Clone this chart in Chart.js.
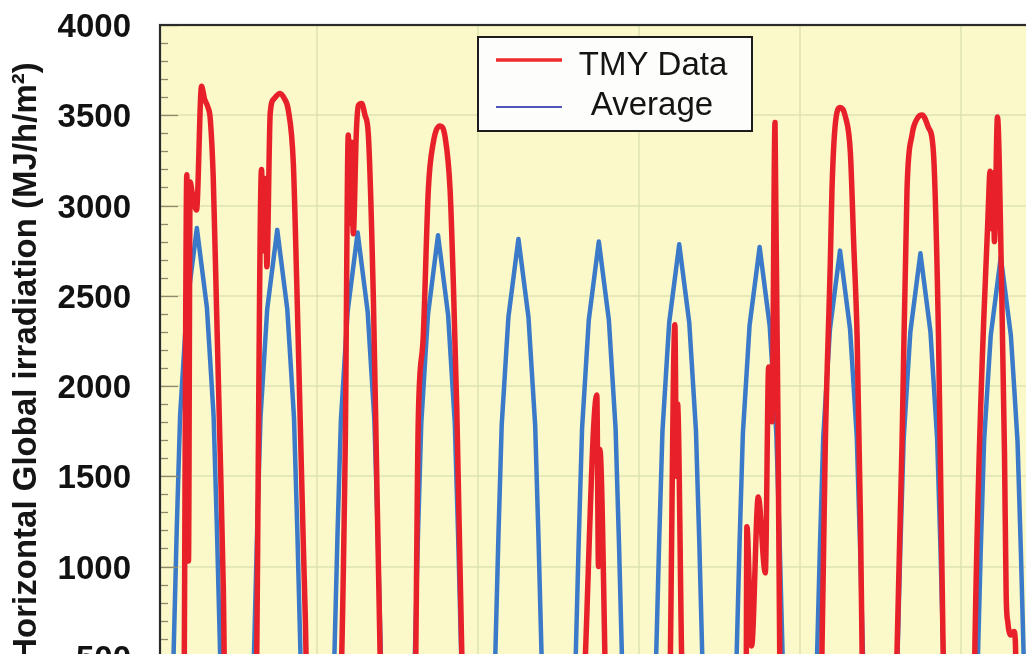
<!DOCTYPE html>
<html>
<head>
<meta charset="utf-8">
<script src="https://cdn.jsdelivr.net/npm/chart.js@4.4.0/dist/chart.umd.min.js"></script>
<style>
  html, body { margin:0; padding:0; background:#ffffff; overflow:hidden; }
  #wrap { width:1026px; height:654px; overflow:hidden; position:relative; background:#fff; }
  canvas { display:block; }
</style>
</head>
<body>
<div id="wrap"><canvas id="c" width="1041" height="771"></canvas></div>
<script>
// ---- Data (hour of record, MJ/h/m²) ----
const seriesLabels = ['TMY Data', 'Average'];
const yAxisTitle = 'Horizontal Global irradiation (MJ/h/m\u00B2)';

// Average: 24 hourly values per day (hours 1..24 of each day)
const avgDay1  = [0,0,0,0,475,1205,1835,2135,2435,2582,2728,2875,2728,2582,2435,2135,1835,1205,475,0,0,0,0,0];
const avgDay2  = [0,0,0,0,470,1195,1825,2125,2425,2572,2718,2865,2718,2572,2425,2125,1825,1195,470,0,0,0,0,0];
const avgDay3  = [0,0,0,0,460,1185,1810,2110,2410,2557,2703,2850,2703,2557,2410,2110,1810,1185,460,0,0,0,0,0];
const avgDay4  = [0,0,0,0,450,1170,1795,2095,2395,2542,2688,2835,2688,2542,2395,2095,1795,1170,450,0,0,0,0,0];
const avgDay5  = [0,0,0,0,440,1150,1780,2080,2380,2525,2670,2815,2670,2525,2380,2080,1780,1150,440,0,0,0,0,0];
const avgDay6  = [0,0,0,0,430,1140,1765,2065,2365,2510,2655,2800,2655,2510,2365,2065,1765,1140,430,0,0,0,0,0];
const avgDay7  = [0,0,0,0,420,1130,1750,2050,2350,2495,2640,2785,2640,2495,2350,2050,1750,1130,420,0,0,0,0,0];
const avgDay8  = [0,0,0,0,410,1120,1735,2035,2335,2480,2625,2770,2625,2480,2335,2035,1735,1120,410,0,0,0,0,0];
const avgDay9  = [0,0,0,0,400,1105,1720,2020,2315,2460,2605,2750,2605,2460,2315,2020,1720,1105,400,0,0,0,0,0];
const avgDay10 = [0,0,0,0,390,1095,1705,2005,2300,2445,2590,2735,2590,2445,2300,2005,1705,1095,390,0,0,0,0,0];
const avgDay11 = [0,0,0,0,380,1080,1690,1990,2280,2425,2570,2715,2570,2425,2280,1990,1690,1080,380,0,0,0,0,0];

// TMY data: [hour, value] pairs
const tmyDay1  = [[1,0],[8.0,0],[9.0,3170],[9.5,1030],[10.0,3130],[10.7,3060],[11.9,2975],[13.4,3660],[14.3,3590],[15.3,3545],[16.0,3480],[16.9,3150],[17.9,2415],[18.9,1680],[19.9,880],[20.6,0]];
const tmyDay2  = [[29.4,0],[31.3,3200],[31.9,2750],[32.4,3150],[32.9,2660],[33.9,3510],[35.0,3590],[36.8,3621],[38.2,3590],[39.3,3529],[40.8,3235],[41.8,2587],[42.8,1850],[43.8,1110],[44.4,700],[45.2,0]];
const tmyDay3  = [[54.1,0],[56.3,1667],[57.2,3390],[57.8,2900],[58.2,3350],[58.7,2844],[59.6,3400],[60.2,3553],[61.2,3565],[62.2,3500],[63.2,3391],[64.7,2479],[65.7,1500],[66.7,515],[67.2,0]];
const tmyDay4  = [[76.9,0],[78.1,1809],[79.6,2277],[81.1,3087],[82.6,3350],[84.6,3441],[86.1,3380],[87.6,3087],[88.6,2550],[89.6,1870],[91.1,515],[91.6,0]];
const tmyDay5  = [[100,0],[103,150],[106,320],[109,380],[112,300],[115,150],[117,0]];
const tmyDay6  = [[126.3,0],[131.4,1950],[131.9,1000],[132.3,1650],[133.8,515],[134.2,0]];
const tmyDay7  = [[152.8,0],[154.7,2340],[155.2,1500],[155.5,1900],[156.7,515],[157.2,0]];
const tmyDay8  = [[175.9,0],[176.2,1220],[177.6,560],[179.6,1385],[181.7,965],[182.7,2105],[183.7,1802],[184.6,3460],[186.0,520],[186.4,0]];
const tmyDay9  = [[197.8,0],[198.6,515],[199.6,1668],[201.1,2681],[201.6,3087],[202.6,3452],[204.1,3543],[205.6,3493],[207.1,3290],[208.1,2783],[209.1,2276],[210.1,1263],[210.6,515],[211.0,0]];
const tmyDay10 = [[220.5,0],[221.0,515],[222.5,1668],[224.0,3087],[225.5,3391],[227.0,3480],[228.5,3502],[230.4,3432],[231.9,3290],[233.4,2276],[233.9,1668],[234.8,515],[235.2,0]];
const tmyDay11 = [[243.9,0],[244.3,600],[248.3,3000],[248.8,3190],[249.3,2870],[249.7,3180],[250.1,2800],[251.0,3490],[252.2,2605],[253.1,1628],[253.6,844],[254.1,690],[255.0,620],[255.9,640],[256.3,600],[257.1,0],[264,0]];

const avgDays = [avgDay1,avgDay2,avgDay3,avgDay4,avgDay5,avgDay6,avgDay7,avgDay8,avgDay9,avgDay10,avgDay11];
const tmyDays = [tmyDay1,tmyDay2,tmyDay3,tmyDay4,tmyDay5,tmyDay6,tmyDay7,tmyDay8,tmyDay9,tmyDay10,tmyDay11];

const yMin = 0, yMax = 4000, yStep = 500, yMinorStep = 100;
const xMin = 1, xMax = 264, xGridStep = 48;

// ---- build points ----
const avgPoints = [];
avgDays.forEach((day, d) => day.forEach((v, i) => avgPoints.push({ x: d * 24 + i + 1, y: v })));
const tmyPoints = [];
tmyDays.forEach(day => day.forEach(p => tmyPoints.push({ x: p[0], y: p[1] })));

const plotBg = 'rgb(251,248,202)';
const gridCol = 'rgba(214,224,170,0.6)';

const decor = {
  id: 'decor',
  beforeDraw(chart) {
    const { ctx, chartArea: a } = chart;
    ctx.save();
    ctx.fillStyle = plotBg;
    ctx.fillRect(a.left, a.top, a.right - a.left, a.bottom - a.top);
    ctx.restore();
  },
  afterDraw(chart) {
    const { ctx, chartArea: a } = chart;
    const ys = chart.scales.y;
    ctx.save();
    // inner tick marks
    ctx.strokeStyle = '#8f8a6c';
    ctx.lineWidth = 1.3;
    for (let v = yMin; v <= yMax; v += yMinorStep) {
      const y = Math.round(ys.getPixelForValue(v)) + 0.5;
      const len = (v % yStep === 0) ? 18 : 8;
      ctx.beginPath();
      ctx.moveTo(a.left, y);
      ctx.lineTo(a.left + len, y);
      ctx.stroke();
    }
    // frame
    ctx.strokeStyle = '#2b2b2b';
    ctx.lineWidth = 2.2;
    ctx.strokeRect(a.left, a.top, a.right - a.left, a.bottom - a.top);

    // legend
    const bx = 478, by = 37, bw = 274, bh = 94;
    ctx.fillStyle = '#fdfdfb';
    ctx.fillRect(bx, by, bw, bh);
    ctx.strokeStyle = '#1c1c1c';
    ctx.lineWidth = 2;
    ctx.strokeRect(bx, by, bw, bh);
    ctx.lineCap = 'butt';
    ctx.strokeStyle = '#ee2a2a';
    ctx.lineWidth = 3.5;
    ctx.beginPath(); ctx.moveTo(496, 60); ctx.lineTo(562, 60); ctx.stroke();
    ctx.strokeStyle = '#4f56b8';
    ctx.lineWidth = 2;
    ctx.beginPath(); ctx.moveTo(496, 107); ctx.lineTo(562, 107); ctx.stroke();
    ctx.fillStyle = '#141414';
    ctx.font = '33px "Liberation Sans", Arial, sans-serif';
    ctx.textAlign = 'center';
    ctx.textBaseline = 'alphabetic';
    ctx.fillText(chart.data.datasets[0].label, 653, 75);
    ctx.fillText(chart.data.datasets[1].label, 652, 115);

    // y-axis title
    ctx.translate(36, 362);
    ctx.rotate(-Math.PI / 2);
    ctx.font = 'bold 33px "Liberation Sans", Arial, sans-serif';
    ctx.fillStyle = '#151515';
    ctx.textAlign = 'center';
    ctx.fillText(yAxisTitle, 0, 0);
    ctx.restore();
  }
};

new Chart(document.getElementById('c'), {
  type: 'line',
  data: {
    datasets: [
      { label: seriesLabels[0], data: tmyPoints, borderColor: '#e8202a', borderWidth: 5.5,
        pointRadius: 0, tension: 0.4, cubicInterpolationMode: 'monotone',
        borderJoinStyle: 'round', borderCapStyle: 'round', fill: false },
      { label: seriesLabels[1], data: avgPoints, borderColor: '#3a7ac8', borderWidth: 4.5,
        pointRadius: 0, tension: 0, borderJoinStyle: 'round', borderCapStyle: 'round', fill: false }
    ]
  },
  options: {
    responsive: false,
    animation: false,
    events: [],
    layout: { padding: { top: 25, right: 0, bottom: 24, left: 0 } },
    plugins: { legend: { display: false }, tooltip: { enabled: false }, title: { display: false } },
    scales: {
      x: {
        type: 'linear', min: xMin, max: xMax,
        ticks: { display: false, stepSize: xGridStep },
        grid: { drawTicks: false, lineWidth: 2,
                color: (c) => (c.tick && c.tick.value % xGridStep === 0) ? gridCol : 'rgba(0,0,0,0)' },
        border: { display: false },
        afterFit(s) { s.height = 0; s.paddingLeft = 0; s.paddingRight = 0; }
      },
      y: {
        min: yMin, max: yMax,
        ticks: { stepSize: yStep, padding: 29, labelOffset: 3, color: '#121212',
                 callback: (v) => String(v),
                 font: { family: '"Liberation Sans", Arial, sans-serif', weight: 'bold', size: 33 } },
        grid: { drawTicks: false, lineWidth: 2, color: gridCol },
        border: { display: false },
        afterFit(s) { s.width = 160; s.paddingTop = 0; s.paddingBottom = 0; }
      }
    }
  },
  plugins: [decor]
});
</script>
</body>
</html>
